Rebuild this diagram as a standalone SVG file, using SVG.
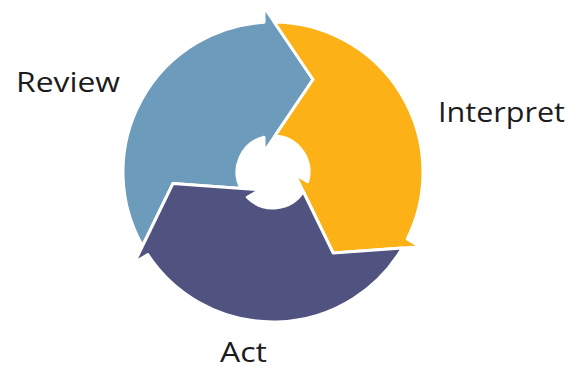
<svg xmlns="http://www.w3.org/2000/svg" xmlns:xlink="http://www.w3.org/1999/xlink" width="582" height="366" viewBox="0 0 582 366">
  <defs>
    <style>
      .seg { stroke: #ffffff; stroke-width: 3; stroke-linejoin: round; }
      .label { font-family: "Open Sans", "Lato", "Liberation Sans", sans-serif; font-size: 27px; font-weight: 400; fill: #1c1c1c; }
    </style>
    <!-- One curved arrow of the three-step cycle, centred on (273,172):
         outer radius 150, inner radius 36; head points clockwise at the top,
         tail is notched to take the head of the previous step. -->
    <path id="cycle-arrow" d="M142.5,246 A150,150 0 0 1 264,22.27 L264,7 L313,79.5 L264,152 L264,137.14 A36,36 0 0 0 240.97,188.43 L172.9,183.6 Z"/>
  </defs>

  <rect width="582" height="366" fill="#ffffff"/>

  <g id="review">
    <use xlink:href="#cycle-arrow" href="#cycle-arrow" class="seg" fill="#6C9BBC"/>
    <text class="label" x="16" y="91.5" textLength="104" lengthAdjust="spacingAndGlyphs">Review</text>
  </g>

  <g id="interpret">
    <use xlink:href="#cycle-arrow" href="#cycle-arrow" class="seg" fill="#FCB216" transform="rotate(120 273 172)"/>
    <text class="label" x="438" y="121.5" textLength="127" lengthAdjust="spacingAndGlyphs">Interpret</text>
  </g>

  <g id="act">
    <use xlink:href="#cycle-arrow" href="#cycle-arrow" class="seg" fill="#505280" transform="rotate(240 273 172)"/>
    <text class="label" x="220" y="361.5" textLength="47" lengthAdjust="spacingAndGlyphs">Act</text>
  </g>
</svg>
